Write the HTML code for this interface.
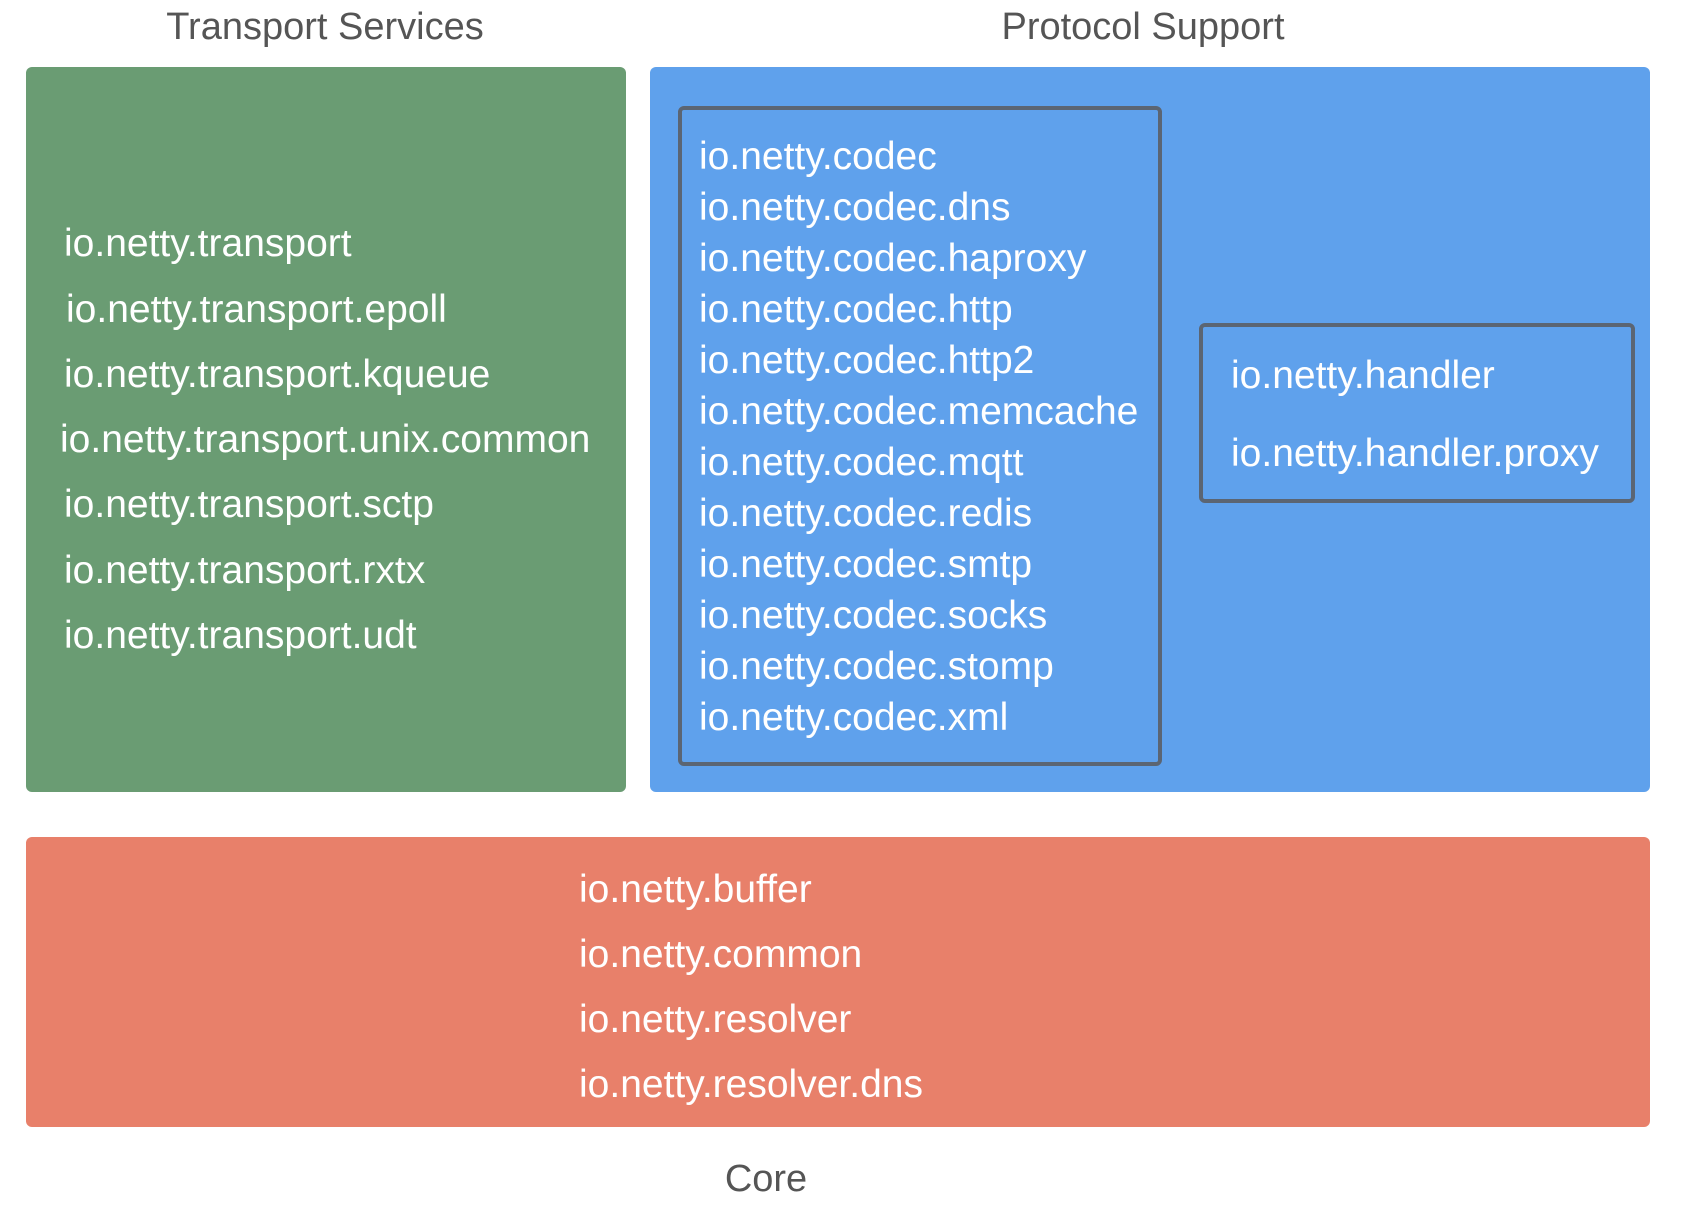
<!DOCTYPE html>
<html><head><meta charset="utf-8"><style>
body{margin:0;width:1688px;height:1212px;background:#fff;position:relative;overflow:hidden;font-family:"Liberation Sans",sans-serif}
.b{position:absolute;border-radius:6px}
.t{position:absolute;color:#fff;font-size:39px;line-height:50px;white-space:nowrap}
.h{position:absolute;color:#555;font-size:38px;line-height:50px;white-space:nowrap;transform:translateX(-50%)}
.in{position:absolute;border:4px solid #5b6573;border-radius:6px;box-sizing:border-box}
</style></head><body>
<div class="h" style="left:325px;top:2px">Transport Services</div>
<div class="h" style="left:1143px;top:2px">Protocol Support</div>
<div class="h" style="left:766px;top:1154px">Core</div>
<div class="b" style="left:26px;top:67px;width:600px;height:725px;background:#6a9c73"></div>
<div class="b" style="left:650px;top:67px;width:1000px;height:725px;background:#5fa1ec"></div>
<div class="b" style="left:26px;top:837px;width:1624px;height:290px;background:#e8806a"></div>
<div class="in" style="left:678px;top:106px;width:484px;height:660px"></div>
<div class="in" style="left:1199px;top:323px;width:436px;height:180px"></div>

<div class="t" style="left:64px;top:219px">io.netty.transport</div>
<div class="t" style="left:66px;top:285px">io.netty.transport.epoll</div>
<div class="t" style="left:64px;top:350px">io.netty.transport.kqueue</div>
<div class="t" style="left:60px;top:415px">io.netty.transport.unix.common</div>
<div class="t" style="left:64px;top:480px">io.netty.transport.sctp</div>
<div class="t" style="left:64px;top:546px">io.netty.transport.rxtx</div>
<div class="t" style="left:64px;top:611px">io.netty.transport.udt</div>

<div class="t" style="left:699px;top:132px">io.netty.codec</div>
<div class="t" style="left:699px;top:183px">io.netty.codec.dns</div>
<div class="t" style="left:699px;top:234px">io.netty.codec.haproxy</div>
<div class="t" style="left:699px;top:285px">io.netty.codec.http</div>
<div class="t" style="left:699px;top:336px">io.netty.codec.http2</div>
<div class="t" style="left:699px;top:387px">io.netty.codec.memcache</div>
<div class="t" style="left:699px;top:438px">io.netty.codec.mqtt</div>
<div class="t" style="left:699px;top:489px">io.netty.codec.redis</div>
<div class="t" style="left:699px;top:540px">io.netty.codec.smtp</div>
<div class="t" style="left:699px;top:591px">io.netty.codec.socks</div>
<div class="t" style="left:699px;top:642px">io.netty.codec.stomp</div>
<div class="t" style="left:699px;top:693px">io.netty.codec.xml</div>

<div class="t" style="left:1231px;top:351px">io.netty.handler</div>
<div class="t" style="left:1231px;top:429px">io.netty.handler.proxy</div>

<div class="t" style="left:579px;top:865px">io.netty.buffer</div>
<div class="t" style="left:579px;top:930px">io.netty.common</div>
<div class="t" style="left:579px;top:995px">io.netty.resolver</div>
<div class="t" style="left:579px;top:1060px">io.netty.resolver.dns</div>
</body></html>
